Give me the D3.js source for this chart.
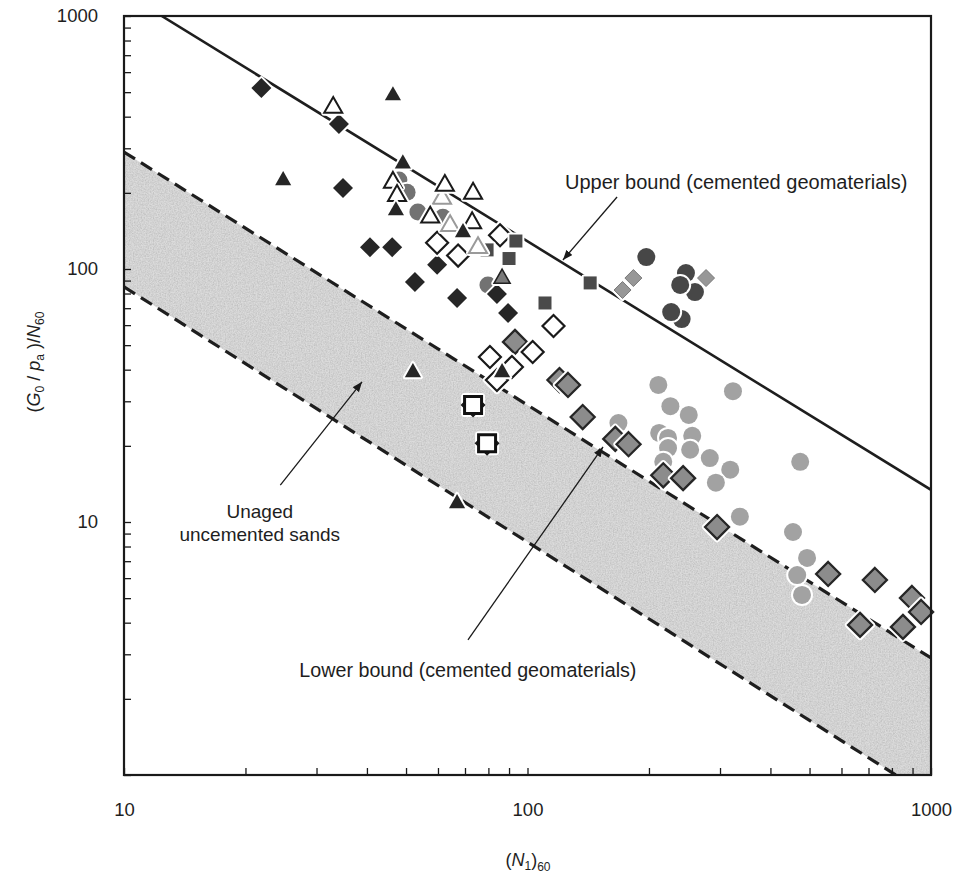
<!DOCTYPE html>
<html>
<head>
<meta charset="utf-8">
<script src="https://cdn.jsdelivr.net/npm/d3@7"></script>
<style>
  body { margin: 0; background: #fff; }
  svg { display: block; font-family: "Liberation Sans", Arial, Helvetica, sans-serif; }
</style>
</head>
<body>
<svg id="chart" width="957" height="878"></svg>
<script>
// ---- data: [(N1)60, (G0/pa)/N60] ----
const blackDiamonds = [[21.9,519],[34.1,374],[34.9,209],[40.7,122],[46.2,122],[52.6,88.8],[59.7,104],[66.9,76.8],[84,79.6],[89.5,67]];
const lightCircles = [[211,34.8],[323,32.9],[226,28.7],[251,26.5],[168,24.6],[212,22.5],[223,21.5],[223,19.6],[256,21.9],[253,19.3],[283,17.9],[217,17.3],[318,16.1],[293,14.3],[474,17.3],[336,10.5],[455,9.13],[493,7.21],[466,6.17],[479,5.15]];
const grayDiamonds = [[93.1,51.5],[120,36.4],[126,34.8],[137,26],[165,21.3],[178,20.3],[217,15.3],[243,14.9],[295,9.55],[556,6.23],[726,5.9],[667,3.92],[897,5.01],[945,4.41],[852,3.85]];
const darkCircles = [[197,111.5],[247,96.4],[260,81.1],[239,86.5],[241,63.4],[227,67.6]];
const lightDiamonds = [[183,92.1],[172,82.6],[277,92.1]];
const midCircles = [[48,225],[50.3,201],[53.5,168],[61.7,160],[79.8,86.5]];
const openDiamonds = [[59.7,127],[67.3,113],[85.5,136],[116,59.5],[103,47],[80.7,44.9],[91.5,41],[84,36.4]];
const darkSquares = [[79.4,119],[93.6,129],[90,110],[110.5,73.4],[143,88.1]];
const lightOpenTriangles = [[61.4,191],[64.3,149],[75.4,122]];
const openTriangles = [[33,437],[46.4,221],[47.5,196],[62.4,215],[73.3,200],[57.4,161],[72.9,153]];
const grayTriangles = [[86.5,92.1]];
const blackTriangles = [[24.8,225],[46.4,487],[49.1,262],[47.2,171],[69.2,140],[52,39.2],[86.5,39.2],[66.9,11.9]];
const openSquares = [[73.3,29.0],[79.4,20.5]];

// bounding lines (end points)
const upperBound = [[12.4,1000],[1000,13.4]];
const bandTop = [[10,290],[1000,2.9]];
const bandBottom = [[10,85],[818,1]];

// axis
const xDomain = [10,1000];
const yDomain = [1,1000];
const xTickLabels = [10,100,1000];
const yTickLabels = [10,100,1000];

// annotations: text anchors and arrows in data units
const annotations = [
  {lines:["Upper bound (cemented geomaterials)"], size:20, at:[123.9,207], anchor:"start", arrow:[[166.7,192.6],[122.4,108.5]]},
  {lines:["Unaged","uncemented sands"], size:19, at:[21.7,10.4], anchor:"middle", arrow:[[24.4,14.0],[38.9,35.8]]},
  {lines:["Lower bound (cemented geomaterials)"], size:19.7, at:[27.2,2.44], anchor:"start", arrow:[[71.2,3.42],[153.9,19.8]]}
];

const svg = d3.select("#chart");
const L = 124, R = 931, T = 16, B = 775;
const x = d3.scaleLog().domain(xDomain).range([L, R]);
const y = d3.scaleLog().domain(yDomain).range([B, T]);

const defs = svg.append("defs");
defs.append("clipPath").attr("id","plotClip")
  .append("rect").attr("x",L).attr("y",T).attr("width",R-L).attr("height",B-T);

// grainy screen for the shaded band
const grain = defs.append("filter").attr("id","grain")
  .attr("x",0).attr("y",0).attr("width","100%").attr("height","100%");
grain.append("feTurbulence").attr("type","fractalNoise").attr("baseFrequency","0.75")
  .attr("numOctaves",2).attr("seed",7).attr("result","noise");
grain.append("feColorMatrix").attr("in","noise").attr("type","saturate").attr("values",0).attr("result","gn");
const ct = grain.append("feComponentTransfer").attr("in","gn").attr("result","gn2");
["feFuncR","feFuncG","feFuncB"].forEach(f => ct.append(f).attr("type","linear").attr("slope",0.6).attr("intercept",0.6));
ct.append("feFuncA").attr("type","linear").attr("slope",0).attr("intercept",1);
grain.append("feBlend").attr("in","SourceGraphic").attr("in2","gn2").attr("mode","multiply").attr("result","b");
grain.append("feComposite").attr("in","b").attr("in2","SourceAlpha").attr("operator","in");

defs.append("marker").attr("id","arrow").attr("viewBox","0 0 10 8")
  .attr("refX",10).attr("refY",4).attr("markerWidth",10).attr("markerHeight",8)
  .attr("markerUnits","userSpaceOnUse").attr("orient","auto")
  .append("path").attr("d","M0,0L10,4L0,8Z").attr("fill","#1a1a1a");

const plot = svg.append("g").attr("clip-path","url(#plotClip)");

// shaded band of unaged uncemented sands
const bandPts = [bandTop[0], bandTop[1], [xDomain[1], yDomain[0]], bandBottom[1], bandBottom[0]];
plot.append("path")
  .attr("d", d3.line().x(d => x(d[0])).y(d => y(d[1]))(bandPts) + "Z")
  .attr("fill","#dcdcdc").attr("filter","url(#grain)");

const line = d3.line().x(d => x(d[0])).y(d => y(d[1]));
[bandTop, bandBottom].forEach(pts => {
  plot.append("path").attr("d", line(pts)).attr("fill","none")
    .attr("stroke","#1e1e1e").attr("stroke-width",3.2).attr("stroke-dasharray","13,7");
});
plot.append("path").attr("d", line(upperBound)).attr("fill","none")
  .attr("stroke","#1e1e1e").attr("stroke-width",2.6);

// annotation arrows and text
const ann = svg.append("g").attr("fill","#1e1e1e");
annotations.forEach(a => {
  ann.append("line")
    .attr("x1", x(a.arrow[0][0])).attr("y1", y(a.arrow[0][1]))
    .attr("x2", x(a.arrow[1][0])).attr("y2", y(a.arrow[1][1]))
    .attr("stroke","#1a1a1a").attr("stroke-width",1.3).attr("marker-end","url(#arrow)");
  const t = ann.append("text").attr("x", x(a.at[0])).attr("y", y(a.at[1]))
    .attr("text-anchor", a.anchor).attr("font-size", a.size);
  a.lines.forEach((s,i) => t.append("tspan").attr("x", x(a.at[0])).attr("dy", i ? 23 : 0).text(s));
});

// marker shapes
const shapes = {
  diamond: r => `M0,${-r}L${r},0L0,${r}L${-r},0Z`,
  triangle: r => `M0,${-r*1.05}L${r*0.95},${r*0.62}L${-r*0.95},${r*0.62}Z`,
  square: r => `M${-r},${-r}H${r}V${r}H${-r}Z`,
  circle: r => `M${r},0A${r},${r} 0 1,1 ${-r},0A${r},${r} 0 1,1 ${r},0Z`,
  notches: r => `M${-r-4},0L${-r},-4L${-r},4Z M${r+4},0L${r},-4L${r},4Z M0,${r+4}L-4,${r}L4,${r}Z`
};

const series = [
  {data: lightCircles, shape:"circle", r:9, fill:"#a2a2a2"},
  {data: grayDiamonds, shape:"diamond", r:12, fill:"#8c8c8c", stroke:"#262626", sw:2.3},
  {data: darkCircles, shape:"circle", r:9, fill:"#474747"},
  {data: lightDiamonds, shape:"diamond", r:8.5, fill:"#979797", stroke:"#7a7a7a", sw:1},
  {data: midCircles, shape:"circle", r:8.5, fill:"#727272"},
  {data: blackDiamonds, shape:"diamond", r:10, fill:"#262626"},
  {data: openDiamonds, shape:"diamond", r:11, fill:"#ffffff", stroke:"#1a1a1a", sw:2.2},
  {data: darkSquares, shape:"square", r:6.5, fill:"#4a4a4a"},
  {data: lightOpenTriangles, shape:"triangle", r:9.5, fill:"#ffffff", stroke:"#9a9a9a", sw:2},
  {data: openTriangles, shape:"triangle", r:9.5, fill:"#ffffff", stroke:"#1a1a1a", sw:2},
  {data: grayTriangles, shape:"triangle", r:8.5, fill:"#7a7a7a", stroke:"#222", sw:1.5},
  {data: blackTriangles, shape:"triangle", r:8.5, fill:"#262626"},
  {data: openSquares, shape:"square", r:8.5, fill:"#ffffff", stroke:"#111", sw:3, notch:true}
];

const marks = svg.append("g");
series.forEach(s => {
  s.data.forEach(d => {
    const g = marks.append("g").attr("transform", `translate(${x(d[0])},${y(d[1])})`);
    const d0 = shapes[s.shape](s.r);
    // white halo around each symbol
    g.append("path").attr("d", d0).attr("fill","#fff").attr("stroke","#fff")
      .attr("stroke-width", (s.sw || 0) + 4).attr("stroke-linejoin","round");
    if (s.notch) g.append("path").attr("d", shapes.notches(s.r)).attr("fill","#1a1a1a");
    g.append("path").attr("d", d0).attr("fill", s.fill)
      .attr("stroke", s.stroke || "none").attr("stroke-width", s.sw || 0);
  });
});

// frame
svg.append("rect").attr("x",L).attr("y",T).attr("width",R-L).attr("height",B-T)
  .attr("fill","none").attr("stroke","#1a1a1a").attr("stroke-width",2.2);

// axes with inward ticks
const xAxis = d3.axisBottom(x).tickValues(x.ticks()).tickSizeInner(-7).tickSizeOuter(0).tickPadding(28)
  .tickFormat(d => xTickLabels.includes(d) ? String(d) : "");
const yAxis = d3.axisLeft(y).tickValues(y.ticks()).tickSizeInner(-7).tickSizeOuter(0).tickPadding(26)
  .tickFormat(d => yTickLabels.includes(d) ? String(d) : "");

const gx = svg.append("g").attr("transform",`translate(0,${B})`).call(xAxis);
const gy = svg.append("g").attr("transform",`translate(${L},0)`).call(yAxis);
[gx, gy].forEach(g => {
  g.select(".domain").remove();
  g.selectAll(".tick line").attr("stroke","#1a1a1a").attr("stroke-width",1.3);
  g.selectAll(".tick text").attr("font-size",18.5).attr("fill","#1e1e1e")
    .attr("font-family","'Liberation Sans', Arial, sans-serif");
});

// axis titles
const xt = svg.append("text").attr("x",528).attr("y",866).attr("text-anchor","middle")
  .attr("font-size",18).attr("fill","#1e1e1e");
xt.append("tspan").text("(");
xt.append("tspan").attr("font-style","italic").text("N");
xt.append("tspan").attr("font-size",12).attr("dy",4).text("1");
xt.append("tspan").attr("dy",-4).text(")");
xt.append("tspan").attr("font-size",12).attr("dy",5).text("60");

const yt = svg.append("text").attr("transform","translate(40,362) rotate(-90)")
  .attr("text-anchor","middle").attr("font-size",18).attr("fill","#1e1e1e");
yt.append("tspan").text("(");
yt.append("tspan").attr("font-style","italic").text("G");
yt.append("tspan").attr("font-size",12).attr("dy",4).text("0");
yt.append("tspan").attr("dy",-4).text(" / ");
yt.append("tspan").attr("font-style","italic").text("p");
yt.append("tspan").attr("font-size",12).attr("dy",4).text("a");
yt.append("tspan").attr("dy",-4).text(" )/");
yt.append("tspan").attr("font-style","italic").text("N");
yt.append("tspan").attr("font-size",12).attr("dy",4).text("60");
</script>
</body>
</html>
